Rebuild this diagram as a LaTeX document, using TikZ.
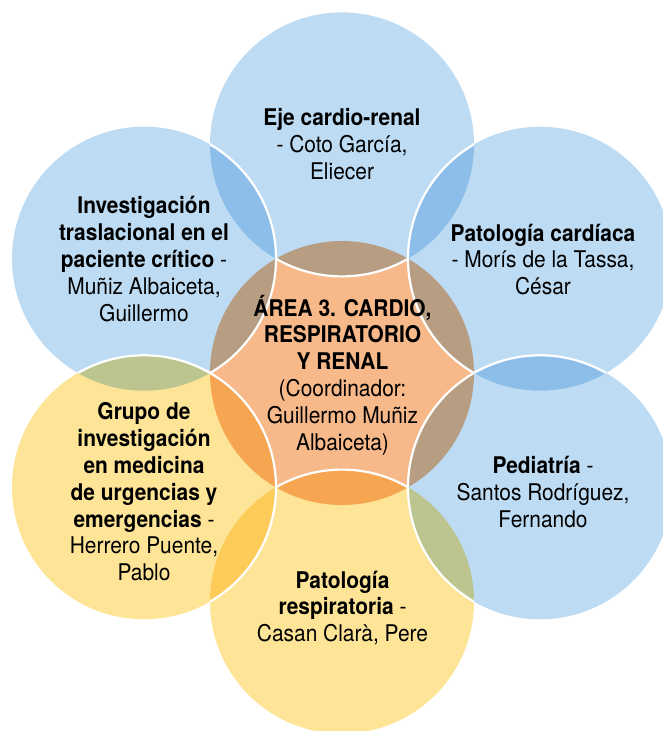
\documentclass[tikz,border=0pt]{standalone}
\usepackage{fontspec}
\setmainfont{TeX Gyre Heros}[FakeStretch=0.91]
\definecolor{blu}{RGB}{189,220,244}
\definecolor{bluu}{RGB}{140,190,233}
\definecolor{yel}{RGB}{254,228,150}
\definecolor{yell}{RGB}{253,204,88}
\definecolor{sal}{RGB}{247,184,138}
\definecolor{brn}{RGB}{183,158,131}
\definecolor{org}{RGB}{246,165,81}
\definecolor{grn}{RGB}{188,197,143}
\tikzset{
  txt/.style={align=center, inner sep=0pt, text=black, font=\fontsize{23}{26.8}\selectfont},
  edge/.style={white, line width=2.2pt}
}
\begin{document}
\begin{tikzpicture}[x=1pt,y=-1pt]
\useasboundingbox (0,0) rectangle (663,731);
\clip (0,0) rectangle (663,731);
\def\R{132}
\coordinate (cC) at (342,373);
\coordinate (cT) at (342,144.4);
\coordinate (cB) at (342,601.6);
\coordinate (cUL) at (144,258.7);
\coordinate (cUR) at (540,258.7);
\coordinate (cLL) at (144,487.3);
\coordinate (cLR) at (540,487.3);
% base fills
\fill[sal] (cC) circle[radius=\R];
\foreach \c/\col in {T/blu,B/yel,UL/blu,UR/blu,LL/yel,LR/blu}
  \fill[\col] (c\c) circle[radius=\R];
% overlaps with the centre
\foreach \c/\col in {T/brn,UL/brn,UR/brn,LR/brn,LL/org,B/org}{
  \begin{scope}
    \clip (cC) circle[radius=\R];
    \fill[\col] (c\c) circle[radius=\R];
  \end{scope}}
% overlaps between neighbours
\foreach \a/\b/\col in {T/UL/bluu,T/UR/bluu,UR/LR/bluu,LR/B/grn,B/LL/yell,LL/UL/grn}{
  \begin{scope}
    \clip (c\a) circle[radius=\R];
    \fill[\col] (c\b) circle[radius=\R];
  \end{scope}}
% white outlines
\foreach \a/\b in {T/C,B/C,UL/C,UR/C,LL/C,LR/C,UL/T,UR/T,LL/B,LL/UL,LR/B,LR/UR}{
  \begin{scope}
    \clip (c\b) circle[radius=\R];
    \draw[edge] (c\a) circle[radius=\R];
  \end{scope}}
% texts
\node[txt] (tT) at (342,144) {\textbf{Eje cardio-renal}\\- Coto García,\\Eliecer};
\node[txt] (tUL) at (144,259) {\textbf{Investigación}\\\textbf{traslacional en el}\\\textbf{paciente crítico} -\\Muñiz Albaiceta,\\Guillermo};
\node[txt] (tUR) at (543,259.5) {\textbf{Patología cardíaca}\\- Morís de la Tassa,\\César};
\node[txt] (tC) at (342.5,375) {\textbf{ÁREA 3. CARDIO,}\\\textbf{RESPIRATORIO}\\\textbf{Y RENAL}\\(Coordinador:\\Guillermo Muñiz\\Albaiceta)};
\node[txt] (tLL) at (144,492) {\textbf{Grupo de}\\\textbf{investigación}\\\textbf{en medicina}\\\textbf{de urgencias y}\\\textbf{emergencias} -\\Herrero Puente,\\Pablo};
\node[txt] (tLR) at (543,492) {\textbf{Pediatría} -\\Santos Rodríguez,\\Fernando};
\node[txt] (tB) at (342.5,608) {\textbf{Patología}\\\textbf{respiratoria} -\\Casan Clarà, Pere};
\end{tikzpicture}
\end{document}
